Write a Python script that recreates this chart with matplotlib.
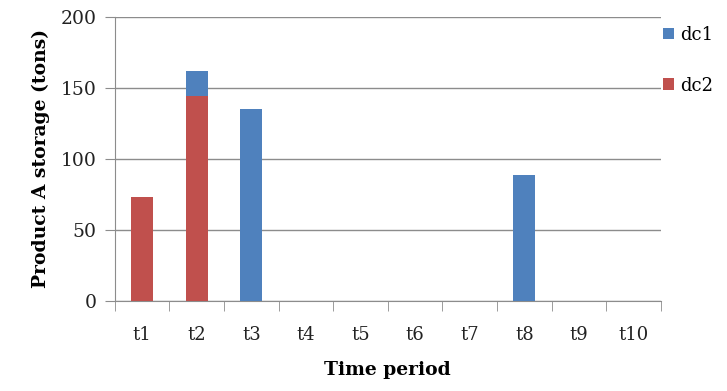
import numpy as np
import matplotlib.pyplot as plt

periods = ["t1", "t2", "t3", "t4", "t5", "t6", "t7", "t8", "t9", "t10"]
dc2 = [73, 144, 0, 0, 0, 0, 0, 0, 0, 0]
dc1 = [0, 18, 135, 0, 0, 0, 0, 89, 0, 0]

plt.rcParams['font.family'] = ['DejaVu Serif']

fig = plt.figure(figsize=(7.27, 3.91), dpi=100)
ax = fig.add_axes([0.158, 0.230, 0.751, 0.727])

x = np.arange(len(periods))
w = 0.4
ax.bar(x, dc2, w, color="#C0504D", label="dc2", zorder=3)
ax.bar(x, dc1, w, bottom=dc2, color="#4F81BD", label="dc1", zorder=3)

ax.set_xlim(-0.5, len(periods) - 0.5)
ax.set_ylim(0, 200)
ax.set_yticks([0, 50, 100, 150, 200])
ax.yaxis.grid(True, color="#8c8c8c", linewidth=1)
ax.set_axisbelow(True)

ax.set_xticks(x)
ax.set_xticklabels(periods)
ax.set_xticks(np.arange(-0.5, len(periods)), minor=True)
ax.tick_params(axis="x", which="major", length=0, pad=18, labelsize=13, colors="#222222")
ax.tick_params(axis="x", which="minor", length=7, color="#8c8c8c")
ax.tick_params(axis="y", length=7, color="#8c8c8c", pad=6, labelsize=13.5, labelcolor="#222222")

for s in ["top", "right"]:
    ax.spines[s].set_visible(False)
for s in ["left", "bottom"]:
    ax.spines[s].set_color("#8c8c8c")

ax.set_ylabel("Product A storage (tons)", fontweight="bold", fontsize=13.5, labelpad=8)
ax.set_xlabel("Time period", fontweight="bold", fontsize=13.5, labelpad=12)

h, l = ax.get_legend_handles_labels()
fig.legend(h[::-1], l[::-1], loc="upper left", bbox_to_anchor=(0.89, 0.975),
           frameon=False, fontsize=13, labelspacing=1.8,
           handlelength=0.6, handleheight=0.6, handletextpad=0.35)

fig.savefig("out.png", dpi=100)
